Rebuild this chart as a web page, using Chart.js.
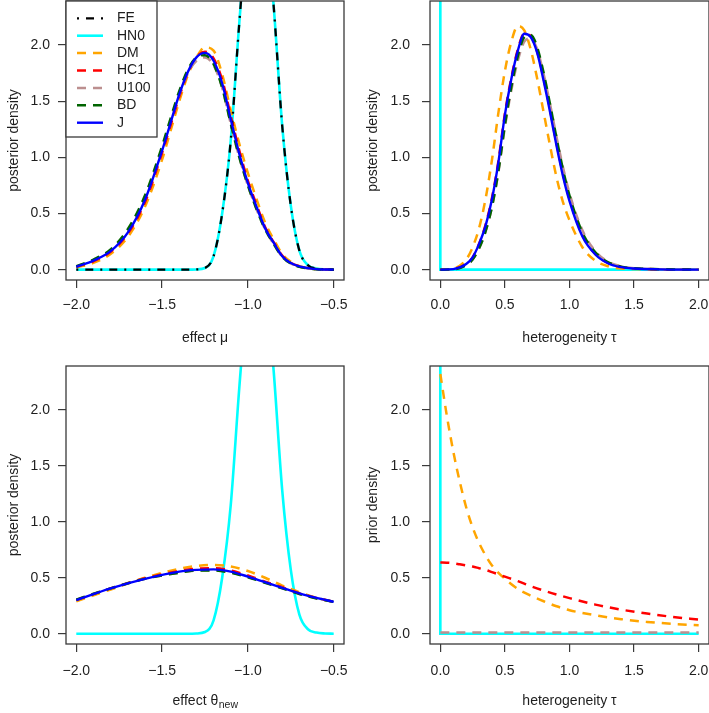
<!DOCTYPE html>
<html>
<head>
<meta charset="utf-8">
<script src="https://cdn.jsdelivr.net/npm/chart.js@4.4.1/dist/chart.umd.min.js"></script>
<style>
  body { margin: 0; background: #fff; }
  #wrap { position: relative; width: 709px; height: 713px; overflow: hidden; }
  canvas { position: absolute; }
</style>
</head>
<body>
<div id="wrap">
  <canvas id="pMu" width="355" height="355" style="left:0;top:0"></canvas>
  <canvas id="pTau" width="354" height="355" style="left:355px;top:0"></canvas>
  <canvas id="pNew" width="355" height="358" style="left:0;top:355px"></canvas>
  <canvas id="pPrior" width="354" height="358" style="left:355px;top:355px"></canvas>
</div>
<script>
// tick values
const yTicks = [0, 0.5, 1, 1.5, 2];
const effectTicks = [-2, -1.5, -1, -0.5];
const tauTicks = [0, 0.5, 1, 1.5, 2];
const legendNames = ['FE', 'HN0', 'DM', 'HC1', 'U100', 'BD', 'J'];

// panel 1: posterior of effect mu
const muGrid = [-2.0, -1.9, -1.8, -1.7, -1.6, -1.5, -1.45, -1.4, -1.35, -1.3, -1.25, -1.2, -1.15, -1.1, -1.05, -1.0, -0.95, -0.9, -0.85, -0.8, -0.75, -0.7, -0.6, -0.5];
const muJ    = [0.025, 0.08, 0.165, 0.33, 0.62, 1.06, 1.31, 1.56, 1.76, 1.89, 1.93, 1.86, 1.66, 1.34, 1.03, 0.77, 0.56, 0.37, 0.24, 0.12, 0.06, 0.03, 0.005, 0.0];
const muHC1  = [0.025, 0.075, 0.16, 0.32, 0.60, 1.04, 1.29, 1.54, 1.75, 1.89, 1.94, 1.88, 1.69, 1.37, 1.06, 0.79, 0.58, 0.38, 0.245, 0.125, 0.06, 0.03, 0.005, 0.0];
const muU100 = [0.03, 0.085, 0.17, 0.34, 0.63, 1.07, 1.32, 1.56, 1.75, 1.86, 1.89, 1.82, 1.62, 1.30, 1.00, 0.75, 0.54, 0.36, 0.23, 0.115, 0.055, 0.025, 0.004, 0.0];
const muBD   = [0.03, 0.09, 0.18, 0.36, 0.66, 1.10, 1.35, 1.59, 1.78, 1.89, 1.91, 1.83, 1.62, 1.30, 1.00, 0.75, 0.54, 0.36, 0.23, 0.115, 0.055, 0.025, 0.004, 0.0];
const muDM   = [0.02, 0.06, 0.14, 0.29, 0.56, 0.98, 1.24, 1.50, 1.73, 1.89, 1.98, 1.95, 1.74, 1.42, 1.12, 0.86, 0.63, 0.42, 0.27, 0.14, 0.07, 0.03, 0.005, 0.0];
// narrow peak (FE and HN0 coincide)
const peakGrid = [-2.0, -1.35, -1.3, -1.25, -1.2, -1.15, -1.1, -1.05, -1.0, -0.95, -0.9, -0.85, -0.8, -0.75, -0.7, -0.65, -0.6, -0.55, -0.5];
const muFE   = [0, 0, 0.002, 0.015, 0.12, 0.5, 1.15, 2.2, 3.1, 3.5, 3.2, 2.35, 1.28, 0.57, 0.17, 0.04, 0.01, 0.002, 0];
const muHN0  = [0, 0, 0.002, 0.015, 0.12, 0.5, 1.15, 2.2, 3.1, 3.5, 3.2, 2.35, 1.28, 0.57, 0.17, 0.04, 0.01, 0.002, 0];

// panel 2: posterior of heterogeneity tau
const tauGrid = [0, 0.1, 0.2, 0.25, 0.3, 0.35, 0.4, 0.45, 0.5, 0.55, 0.6, 0.65, 0.7, 0.75, 0.8, 0.85, 0.9, 0.95, 1.0, 1.1, 1.2, 1.3, 1.4, 1.5, 1.7, 2.0];
const tauJ    = [0, 0.005, 0.05, 0.11, 0.23, 0.39, 0.63, 0.96, 1.38, 1.70, 1.95, 2.10, 2.07, 1.93, 1.68, 1.40, 1.10, 0.83, 0.61, 0.295, 0.135, 0.055, 0.022, 0.01, 0.003, 0];
const tauDM   = [0, 0.01, 0.09, 0.2, 0.37, 0.63, 0.98, 1.40, 1.77, 2.03, 2.17, 2.13, 1.96, 1.70, 1.40, 1.10, 0.82, 0.60, 0.44, 0.20, 0.08, 0.03, 0.01, 0.005, 0.001, 0];
const tauHC1  = [0, 0.005, 0.05, 0.11, 0.23, 0.40, 0.64, 0.97, 1.39, 1.71, 1.96, 2.10, 2.08, 1.94, 1.70, 1.42, 1.12, 0.85, 0.63, 0.31, 0.14, 0.06, 0.025, 0.011, 0.003, 0];
const tauBD   = [0, 0.003, 0.04, 0.09, 0.19, 0.34, 0.56, 0.88, 1.29, 1.63, 1.90, 2.07, 2.09, 1.98, 1.75, 1.47, 1.17, 0.89, 0.66, 0.33, 0.155, 0.065, 0.027, 0.012, 0.004, 0];
const tauU100 = [0, 0.003, 0.04, 0.09, 0.19, 0.34, 0.56, 0.87, 1.27, 1.60, 1.86, 2.03, 2.06, 1.96, 1.74, 1.47, 1.18, 0.91, 0.68, 0.35, 0.165, 0.07, 0.03, 0.013, 0.004, 0];
const hn0TauX = [0, 0, 2];
const hn0TauY = [2.6, 0, 0];

// panel 3: posterior predictive theta_new
const newGrid = [-2.0, -1.8, -1.6, -1.4, -1.3, -1.2, -1.1, -1.0, -0.9, -0.8, -0.7, -0.6, -0.5];
const newJ    = [0.30, 0.405, 0.49, 0.555, 0.57, 0.575, 0.555, 0.51, 0.46, 0.41, 0.36, 0.32, 0.285];
const newDM   = [0.29, 0.395, 0.50, 0.58, 0.605, 0.615, 0.60, 0.56, 0.50, 0.43, 0.37, 0.32, 0.285];
const newHC1  = [0.30, 0.405, 0.495, 0.56, 0.58, 0.585, 0.565, 0.52, 0.465, 0.415, 0.36, 0.32, 0.285];
const newBD   = [0.305, 0.405, 0.49, 0.545, 0.565, 0.565, 0.545, 0.505, 0.455, 0.405, 0.355, 0.315, 0.285];
const newU100 = [0.305, 0.405, 0.49, 0.545, 0.565, 0.568, 0.548, 0.508, 0.458, 0.408, 0.357, 0.317, 0.285];
const newHN0  = [0, 0, 0.002, 0.015, 0.12, 0.5, 1.15, 2.2, 3.1, 3.5, 3.2, 2.35, 1.28, 0.57, 0.17, 0.04, 0.01, 0.002, 0];

// panel 4: prior densities of tau
const priorGrid = [0, 0.05, 0.1, 0.15, 0.2, 0.25, 0.3, 0.35, 0.4, 0.5, 0.6, 0.7, 0.8, 0.9, 1.0, 1.2, 1.4, 1.6, 1.8, 2.0];
const priorDM  = [2.32, 1.95, 1.63, 1.36, 1.13, 0.95, 0.81, 0.70, 0.61, 0.49, 0.40, 0.34, 0.29, 0.245, 0.21, 0.165, 0.13, 0.105, 0.088, 0.075];
const priorHC1 = [0.636, 0.635, 0.63, 0.62, 0.61, 0.6, 0.585, 0.57, 0.55, 0.51, 0.47, 0.425, 0.385, 0.35, 0.318, 0.26, 0.215, 0.18, 0.15, 0.127];
const priorU100X = [0, 2];
const priorU100Y = [0.01, 0.01];

const STYLE = {
  FE:   { color: '#000000', dash: [2, 7, 8, 7], width: 2.3, order: 1 },
  HN0:  { color: '#00FFFF', dash: [],           width: 2.6, order: 6 },
  DM:   { color: '#FFA500', dash: [9, 7],       width: 2.5, order: 5 },
  HC1:  { color: '#FF0000', dash: [9, 7],       width: 2.5, order: 4 },
  U100: { color: '#BC8F8F', dash: [9, 7],       width: 2.5, order: 3 },
  BD:   { color: '#006400', dash: [9, 7],       width: 2.5, order: 2 },
  J:    { color: '#0000FF', dash: [],           width: 2.4, order: 0 }
};

const FRAME = '#3a3a3a';
const TEXT = '#1e1e1e';
const FAMILY = "'Liberation Sans', Arial, Helvetica, sans-serif";
const FONT = { family: FAMILY, size: 14 };

function fmt(v) {
  return (v < 0 ? '\u2212' : '') + Math.abs(v).toFixed(1);
}

// box around the plot region, like R's box()
const framePlugin = {
  id: 'frame',
  afterDatasetsDraw(chart) {
    const a = chart.chartArea, ctx = chart.ctx;
    ctx.save();
    ctx.strokeStyle = FRAME;
    ctx.lineWidth = 1.3;
    ctx.strokeRect(a.left, a.top, a.right - a.left, a.bottom - a.top);
    ctx.restore();
  }
};

const legendPlugin = {
  id: 'legendBox',
  afterDraw(chart) {
    const a = chart.chartArea, ctx = chart.ctx;
    const x0 = a.left, y0 = a.top, w = 91, h = 136;
    ctx.save();
    ctx.fillStyle = '#fff';
    ctx.fillRect(x0, y0, w, h);
    ctx.strokeStyle = FRAME;
    ctx.lineWidth = 1.3;
    ctx.strokeRect(x0, y0, w, h);
    legendNames.forEach((name, i) => {
      const st = STYLE[name];
      const y = y0 + 17.3 + i * 17.4;
      ctx.beginPath();
      ctx.setLineDash(st.dash);
      ctx.strokeStyle = st.color;
      ctx.lineWidth = st.width;
      ctx.moveTo(x0 + 11, y);
      ctx.lineTo(x0 + 37, y);
      ctx.stroke();
      ctx.setLineDash([]);
      ctx.fillStyle = TEXT;
      ctx.font = '14px ' + FAMILY;
      ctx.textBaseline = 'middle';
      ctx.textAlign = 'left';
      ctx.fillText(name, x0 + 51, y);
    });
    ctx.restore();
  }
};

// x title with subscript for theta_new
const subTitlePlugin = {
  id: 'subTitle',
  afterDraw(chart) {
    const a = chart.chartArea, ctx = chart.ctx;
    const main = 'effect \u03b8', sub = 'new';
    ctx.save();
    ctx.fillStyle = TEXT;
    ctx.textBaseline = 'middle';
    ctx.textAlign = 'left';
    ctx.font = '14px ' + FAMILY;
    const w1 = ctx.measureText(main).width;
    ctx.font = '10.5px ' + FAMILY;
    const w2 = ctx.measureText(sub).width;
    const x = (a.left + a.right) / 2 - (w1 + w2) / 2;
    const y = 346;
    ctx.font = '14px ' + FAMILY;
    ctx.fillText(main, x, y);
    ctx.font = '10.5px ' + FAMILY;
    ctx.fillText(sub, x + w1 + 0.5, y + 4.5);
    ctx.restore();
  }
};

function series(name, xs, ys, straight) {
  const st = STYLE[name];
  return {
    label: name,
    data: xs.map((x, i) => ({ x: x, y: ys[i] })),
    borderColor: st.color,
    borderWidth: st.width,
    borderDash: st.dash,
    pointRadius: 0,
    fill: false,
    order: st.order,
    tension: straight ? 0 : 0.4,
    cubicInterpolationMode: straight ? 'default' : 'monotone'
  };
}

function buildChart(id, p) {
  return new Chart(document.getElementById(id), {
    type: 'line',
    data: { datasets: p.datasets },
    plugins: p.plugins,
    options: {
      responsive: false,
      animation: false,
      devicePixelRatio: 1,
      layout: { padding: p.pad },
      plugins: { legend: { display: false }, tooltip: { enabled: false } },
      scales: {
        x: {
          type: 'linear',
          min: p.xMin,
          max: p.xMax,
          afterBuildTicks: s => { s.ticks = p.xTicks.map(v => ({ value: v })); },
          afterFit: s => { s.height = p.axisH; s.paddingLeft = 0; s.paddingRight = 0; },
          grid: { drawOnChartArea: false, drawTicks: true, tickLength: 8, color: FRAME, lineWidth: 1.2 },
          border: { display: false },
          ticks: { autoSkip: false, maxRotation: 0, padding: p.xTickPad, color: TEXT, font: FONT, callback: fmt },
          title: { display: !!p.xTitle, text: p.xTitle, color: TEXT, font: FONT, padding: { top: 0, bottom: p.xTitlePad } }
        },
        y: {
          type: 'linear',
          min: -0.092,
          max: 2.392,
          afterBuildTicks: s => { s.ticks = yTicks.map(v => ({ value: v })); },
          afterFit: s => { s.width = p.axisW; s.paddingTop = 0; s.paddingBottom = 0; },
          grid: { drawOnChartArea: false, drawTicks: true, tickLength: 8, color: FRAME, lineWidth: 1.2 },
          border: { display: false },
          ticks: { autoSkip: false, padding: p.yTickPad, color: TEXT, font: FONT, callback: fmt },
          title: { display: true, text: p.yTitle, color: TEXT, font: FONT, padding: { top: p.yTitlePad, bottom: 0 } }
        }
      }
    }
  });
}

buildChart('pMu', {
  datasets: [
    series('FE', peakGrid, muFE),
    series('HN0', peakGrid, muHN0),
    series('DM', muGrid, muDM),
    series('HC1', muGrid, muHC1),
    series('U100', muGrid, muU100),
    series('BD', muGrid, muBD),
    series('J', muGrid, muJ)
  ],
  plugins: [framePlugin, legendPlugin],
  pad: { left: 0, top: 1, right: 11, bottom: 0 },
  axisW: 66, axisH: 75,
  xMin: -2.06, xMax: -0.44, xTicks: effectTicks,
  xTitle: 'effect \u03bc', yTitle: 'posterior density',
  xTickPad: 8.5, xTitlePad: 8, yTickPad: 8, yTitlePad: 5.5
});

buildChart('pTau', {
  datasets: [
    series('HN0', hn0TauX, hn0TauY, true),
    series('DM', tauGrid, tauDM),
    series('HC1', tauGrid, tauHC1),
    series('U100', tauGrid, tauU100),
    series('BD', tauGrid, tauBD),
    series('J', tauGrid, tauJ)
  ],
  plugins: [framePlugin],
  pad: { left: 0, top: 1, right: 0, bottom: 0 },
  axisW: 75, axisH: 75,
  xMin: -0.08, xMax: 2.08, xTicks: tauTicks,
  xTitle: 'heterogeneity \u03c4', yTitle: 'posterior density',
  xTickPad: 8.5, xTitlePad: 8, yTickPad: 12, yTitlePad: 10
});

buildChart('pNew', {
  datasets: [
    series('HN0', peakGrid, newHN0),
    series('DM', newGrid, newDM),
    series('HC1', newGrid, newHC1),
    series('U100', newGrid, newU100),
    series('BD', newGrid, newBD),
    series('J', newGrid, newJ)
  ],
  plugins: [framePlugin, subTitlePlugin],
  pad: { left: 0, top: 11, right: 11, bottom: 0 },
  axisW: 66, axisH: 69,
  xMin: -2.06, xMax: -0.44, xTicks: effectTicks,
  xTitle: '', yTitle: 'posterior density',
  xTickPad: 10.3, xTitlePad: 3, yTickPad: 8, yTitlePad: 5.5
});

buildChart('pPrior', {
  datasets: [
    series('HN0', hn0TauX, hn0TauY, true),
    series('DM', priorGrid, priorDM),
    series('HC1', priorGrid, priorHC1),
    series('U100', priorU100X, priorU100Y, true)
  ],
  plugins: [framePlugin],
  pad: { left: 0, top: 11, right: 0, bottom: 0 },
  axisW: 75, axisH: 69,
  xMin: -0.08, xMax: 2.08, xTicks: tauTicks,
  xTitle: 'heterogeneity \u03c4', yTitle: 'prior density',
  xTickPad: 10.3, xTitlePad: 3, yTickPad: 12, yTitlePad: 10
});
</script>
</body>
</html>
